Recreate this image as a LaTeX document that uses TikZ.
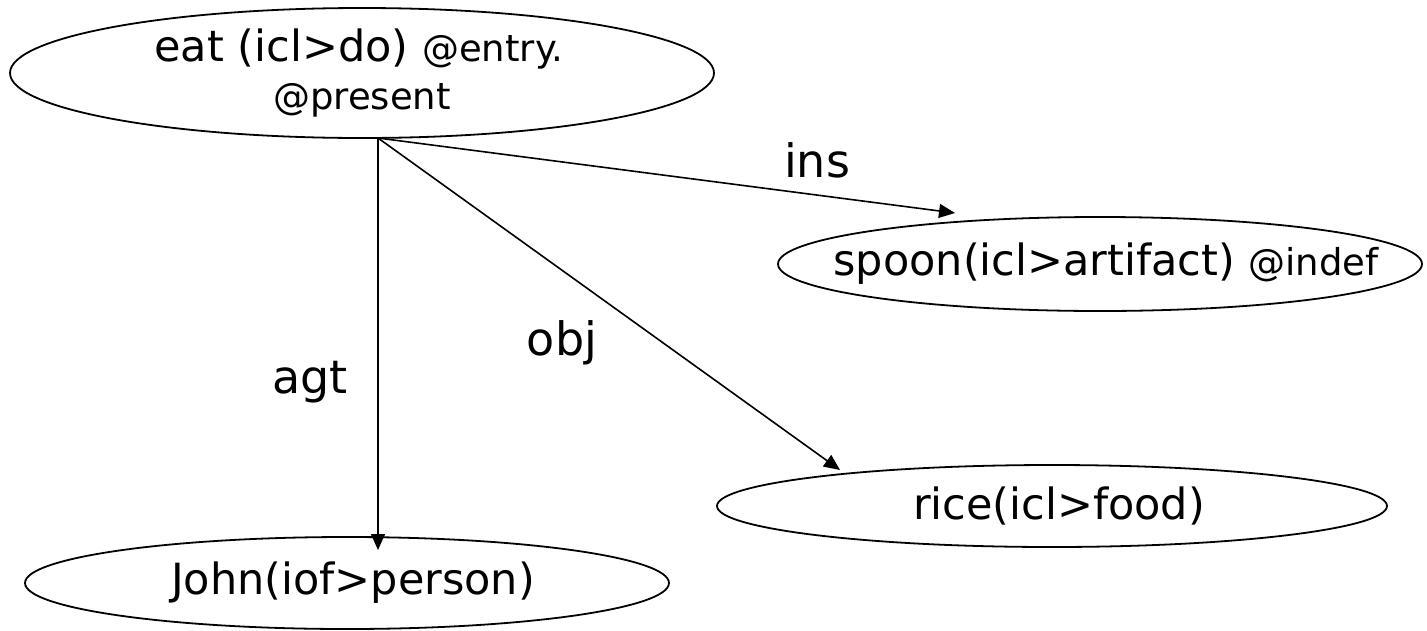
\documentclass[tikz,border=0pt]{standalone}
\usepackage{fontspec}
\setmainfont{DejaVu Sans}
\usetikzlibrary{shapes.geometric,arrows.meta}

\newcommand{\attr}[1]{{\fontsize{37}{44}\selectfont #1}}
\newcommand{\nowidth}[1]{\makebox[0pt]{#1}}

\begin{document}
\begin{tikzpicture}
[x=1pt,y=-1pt,
  concept/.style={shape=ellipse,draw,line width=1.8pt,inner sep=0pt,
    font=\fontsize{43}{47}\selectfont,align=center},
  relation/.style={line width=1.6pt,-{Triangle[length=16pt,width=14pt]}},
  relname/.style={font=\fontsize{46}{52}\selectfont}]
\useasboundingbox (0,0) rectangle (1427,630);
%% concepts
\node (eat) at (362,73) [concept,minimum width=704pt,minimum height=130pt]
  {\nowidth{\hspace{-6pt}eat (icl>do) \attr{@entry.}}\\[1pt]\nowidth{\attr{@present}}};
\node (spoon) at (1100,264) [concept,minimum width=644pt,minimum height=94pt]
  {\nowidth{\hspace{12pt}spoon(icl>artifact) \attr{@indef}}};
\node (rice) at (1052,506) [concept,minimum width=670pt,minimum height=82pt]
  {\nowidth{\hspace{14pt}rice(icl>food)}};
\node (john) at (347,583) [concept,minimum width=644pt,minimum height=92pt]
  {\nowidth{\hspace{12pt}John(iof>person)}};
%% connectors
\coordinate (root) at (378,138);
\coordinate (insend) at (955,213);
\coordinate (objend) at (840,470);
\coordinate (agtend) at (378,550);
\draw[relation] (root) -- (insend);
\draw[relation] (root) -- (objend);
\draw[relation] (root) -- (agtend);
%% relation names
\node (ins) at (817,160) [relname] {ins};
\node (obj) at (562,343) [relname] {obj};
\node (agt) at (310,382) [relname] {agt};
\end{tikzpicture}
\end{document}
